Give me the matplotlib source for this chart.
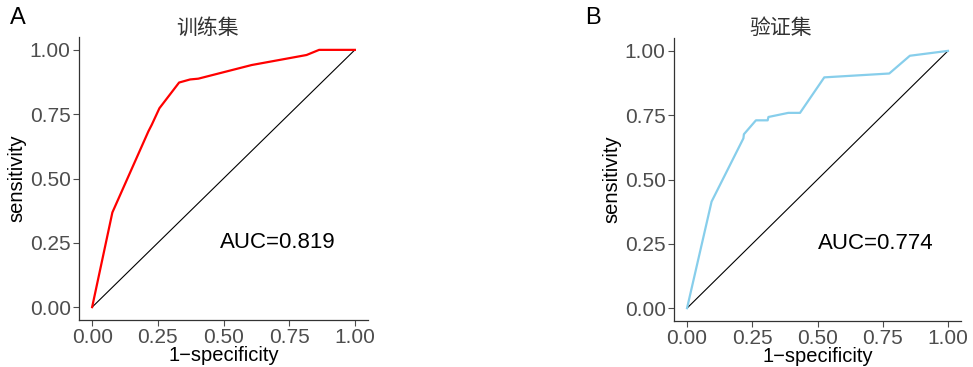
import matplotlib
matplotlib.use("Agg")
import matplotlib.pyplot as plt

plt.rcParams['font.family'] = ['Liberation Sans', 'Noto Sans CJK SC', 'DejaVu Sans']

# Training set ROC
train_fpr = [0.0, 0.077, 0.214, 0.227, 0.256, 0.331, 0.373, 0.404, 0.607, 0.816, 0.864, 1.0]
train_tpr = [0.0, 0.368, 0.683, 0.709, 0.773, 0.873, 0.885, 0.888, 0.941, 0.980, 1.0, 1.0]

# Validation set ROC
valid_fpr = [0.0, 0.094, 0.216, 0.218, 0.264, 0.309, 0.312, 0.388, 0.433, 0.526, 0.775, 0.854, 1.0]
valid_tpr = [0.0, 0.414, 0.660, 0.676, 0.730, 0.730, 0.743, 0.759, 0.759, 0.897, 0.912, 0.981, 1.0]

ticks = [0, 0.25, 0.5, 0.75, 1.0]
tick_labels = ['0.00', '0.25', '0.50', '0.75', '1.00']

W, H = 973, 367
fig = plt.figure(figsize=(W / 100, H / 100), dpi=100)

panels = [
    dict(box=(79, 37, 368, 320), fpr=train_fpr, tpr=train_tpr, color='#FF0000',
         title='训练集', title_x=208, auc='AUC=0.819', auc_x=0.707, letter='A', letter_x=10),
    dict(box=(674, 38, 961, 321), fpr=valid_fpr, tpr=valid_tpr, color='#87CEEB',
         title='验证集', title_x=781, auc='AUC=0.774', auc_x=0.724, letter='B', letter_x=585),
]

for p in panels:
    l, t, r, b = p['box']
    ax = fig.add_axes([l / W, 1 - b / H, (r - l) / W, (b - t) / H])
    ax.plot([0, 1], [0, 1], color='black', lw=0.8)
    ax.plot(p['fpr'], p['tpr'], color=p['color'], lw=1.6)
    ax.set_xlim(-0.05, 1.05)
    ax.set_ylim(-0.05, 1.05)
    ax.set_xticks(ticks)
    ax.set_xticklabels(tick_labels)
    ax.set_yticks(ticks)
    ax.set_yticklabels(tick_labels)
    ax.tick_params(labelsize=15, colors='#4D4D4D', length=4, width=0.8, pad=2)
    for s in ['top', 'right']:
        ax.spines[s].set_visible(False)
    for s in ['left', 'bottom']:
        ax.spines[s].set_color('#333333')
        ax.spines[s].set_linewidth(0.9)
    ax.set_xlabel('1\u2212specificity', fontsize=14.5, labelpad=-1)
    ax.set_ylabel('sensitivity', fontsize=14.5, labelpad=2)
    ax.text(p['auc_x'], 0.252, p['auc'], fontsize=16, ha='center', va='center')
    fig.text(p['title_x'] / W, 1 - 28 / H, p['title'], fontsize=15, ha='center', va='center',
             color='#333333', family=['Noto Sans CJK SC'])
    fig.text(p['letter_x'] / W, 1 - 18 / H, p['letter'], fontsize=17, ha='left', va='center')

fig.savefig('out.png', dpi=100)
